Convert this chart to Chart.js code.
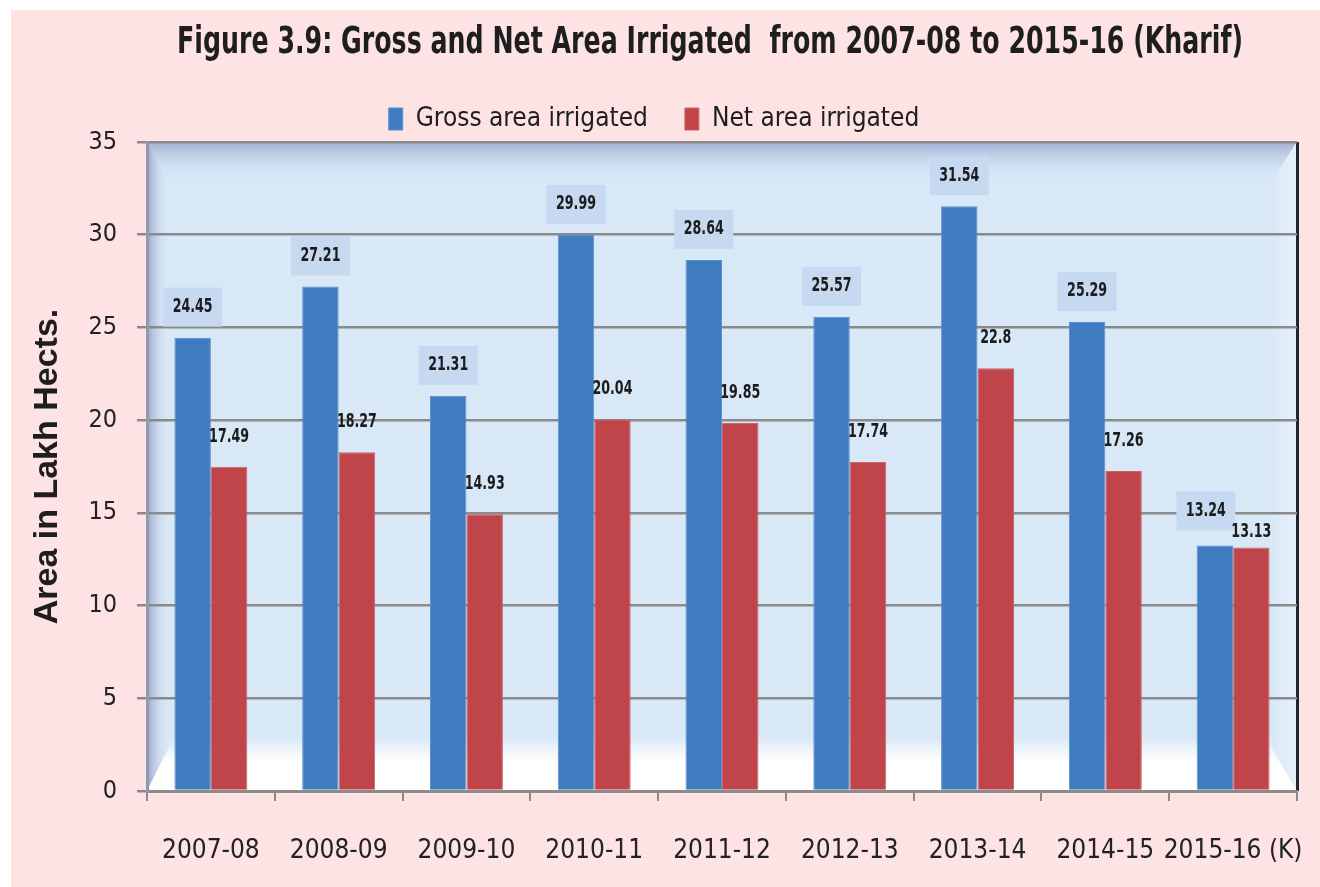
<!DOCTYPE html>
<html>
<head>
<meta charset="utf-8">
<script src="https://cdn.jsdelivr.net/npm/chart.js@4.4.1/dist/chart.umd.min.js"></script>
<style>
  html, body { margin: 0; padding: 0; background: #ffffff; }
  #wrap { position: absolute; left: 11px; top: 10px; width: 1309px; height: 877px; background: #fde3e4; }
  canvas { display: block; }
</style>
</head>
<body>
<div id="wrap"><canvas id="c" width="1309" height="877"></canvas></div>
<script>
// ---- data ----
const categories = ['2007-08', '2008-09', '2009-10', '2010-11', '2011-12', '2012-13', '2013-14', '2014-15', '2015-16 (K)'];
const grossIrrigated = [24.45, 27.21, 21.31, 29.99, 28.64, 25.57, 31.54, 25.29, 13.24];
const netIrrigated = [17.49, 18.27, 14.93, 20.04, 19.85, 17.74, 22.8, 17.26, 13.13];
const seriesNames = ['Gross area irrigated', 'Net area irrigated'];
const titleText = 'Figure 3.9: Gross and Net Area Irrigated  from 2007-08 to 2015-16 (Kharif)';
const yTitle = 'Area in Lakh Hects.';
const yMin = 0, yMax = 35, yStep = 5;

const NARROW = "'Liberation Sans Narrow', 'DejaVu Sans Condensed', 'Open Sans', sans-serif";
const WIDE = "'Liberation Sans', Arial, sans-serif";

// narrow the title box so the (condensed) title spans the same width as the original
const titleBox = {
  id: 'titleBox',
  afterLayout(chart) {
    const t = chart.titleBlock;
    if (!t) return;
    const center = 699, half = 533;
    t.left = center - half;
    t.right = center + half;
    t.width = 2 * half;
  }
};

const plotBg = {
  id: 'plotBg',
  beforeDraw(chart) {
    const { ctx, chartArea: a } = chart;
    const L = a.left, R = a.right, T = a.top, B = a.bottom;
    ctx.save();
    ctx.fillStyle = '#d9e8f7';
    ctx.fillRect(L, T, a.width, a.height);
    const th = 40, lw = 22, rw = 26, bh = 44;
    let g = ctx.createLinearGradient(0, T, 0, T + th);
    g.addColorStop(0, 'rgba(160,172,210,0.95)');
    g.addColorStop(1, 'rgba(217,232,247,0)');
    ctx.fillStyle = g;
    ctx.beginPath(); ctx.moveTo(L, T); ctx.lineTo(R, T); ctx.lineTo(R - rw, T + th); ctx.lineTo(L + lw, T + th); ctx.closePath(); ctx.fill();
    g = ctx.createLinearGradient(L, 0, L + lw, 0);
    g.addColorStop(0, 'rgba(145,158,198,0.9)');
    g.addColorStop(1, 'rgba(217,232,247,0)');
    ctx.fillStyle = g;
    ctx.beginPath(); ctx.moveTo(L, T); ctx.lineTo(L + lw, T + th); ctx.lineTo(L + lw, B - bh); ctx.lineTo(L, B); ctx.closePath(); ctx.fill();
    g = ctx.createLinearGradient(R - rw, 0, R, 0);
    g.addColorStop(0, 'rgba(232,241,251,0)');
    g.addColorStop(1, 'rgba(232,241,251,0.95)');
    ctx.fillStyle = g;
    ctx.beginPath(); ctx.moveTo(R, T); ctx.lineTo(R, B); ctx.lineTo(R - rw, B - bh); ctx.lineTo(R - rw, T + th); ctx.closePath(); ctx.fill();
    g = ctx.createLinearGradient(0, B - bh - 10, 0, B);
    g.addColorStop(0, 'rgba(255,255,255,0)');
    g.addColorStop(0.45, 'rgba(255,255,255,1)');
    g.addColorStop(1, 'rgba(255,255,255,1)');
    ctx.fillStyle = g;
    ctx.beginPath(); ctx.moveTo(L + lw, B - bh - 10); ctx.lineTo(R - rw, B - bh - 10); ctx.lineTo(R - rw, B - bh); ctx.lineTo(R, B); ctx.lineTo(L, B); ctx.lineTo(L + lw, B - bh); ctx.closePath(); ctx.fill();
    ctx.fillStyle = '#1f2633';
    ctx.fillRect(R - 1, T, 3, a.height);
    ctx.restore();
  }
};

const valueLabels = {
  id: 'valueLabels',
  afterDatasetsDraw(chart) {
    const ctx = chart.ctx;
    ctx.save();
    ctx.font = 'bold 19px ' + NARROW;
    ctx.textAlign = 'center';
    ctx.textBaseline = 'middle';
    const squeeze = 0.74;
    const m0 = chart.getDatasetMeta(0), m1 = chart.getDatasetMeta(1);
    const ds0 = chart.data.datasets[0].data, ds1 = chart.data.datasets[1].data;
    m0.data.forEach((bar, i) => {
      const gTxt = String(ds0[i]);
      const nTxt = String(ds1[i]);
      const gw = ctx.measureText(gTxt).width * squeeze;
      const w = gw + 19;
      const h = 39;
      let bx = bar.x - w / 2;
      let bBottom = bar.y - 11;
      const nb = m1.data[i];
      const nw = ctx.measureText(nTxt).width * squeeze;
      let ny = nb.y - 30;
      const overlapX = (nb.x - nw / 2) < (bx + w);
      const overlapY = (ny - 8) < bBottom && (ny + 8) > (bBottom - h);
      if (overlapX && overlapY) {
        bx -= 9;
        bBottom = bar.y - 15;
        ny = bBottom + 2;
      }
      ctx.fillStyle = '#c6d9f0';
      ctx.fillRect(bx, bBottom - h, w, h);
      ctx.fillStyle = '#1c1c1c';
      ctx.fillText(gTxt, bx + w / 2, bBottom - h / 2, gw);
      ctx.fillText(nTxt, nb.x, ny, nw);
    });
    ctx.restore();
  }
};

new Chart(document.getElementById('c'), {
  type: 'bar',
  data: {
    labels: categories,
    datasets: [
      { label: seriesNames[0], data: grossIrrigated, backgroundColor: '#3f7bbf', borderColor: '#5a8fce', borderWidth: 1 },
      { label: seriesNames[1], data: netIrrigated, backgroundColor: '#c0454a', borderColor: '#cf6266', borderWidth: 1 }
    ]
  },
  options: {
    responsive: false,
    animation: false,
    events: [],
    layout: { padding: { left: 0, right: 23, top: 0, bottom: 0 } },
    datasets: { bar: { categoryPercentage: 0.571, barPercentage: 1.0 } },
    plugins: {
      title: {
        display: true,
        text: titleText,
        fullSize: false,
        color: '#1e1e1e',
        font: { family: NARROW, size: 37, weight: 'bold' },
        padding: { top: 11, bottom: 3.6 }
      },
      legend: {
        display: true,
        position: 'top',
        maxHeight: 76,
        labels: {
          color: '#1e1e1e',
          font: { family: NARROW, size: 26 },
          boxWidth: 14,
          boxHeight: 22,
          padding: 37
        }
      },
      tooltip: { enabled: false }
    },
    scales: {
      x: {
        afterFit(scale) { scale.height = 96; scale.paddingLeft = 0; scale.paddingRight = 0; },
        grid: { display: true, drawOnChartArea: false, drawTicks: true, tickLength: 10, color: '#8c8c8c', lineWidth: 2, offset: true },
        border: { display: true, color: '#8c8c8c', width: 3 },
        ticks: { color: '#222222', font: { family: NARROW, size: 26 }, padding: 35, maxRotation: 0, autoSkip: false }
      },
      y: {
        min: yMin, max: yMax,
        afterFit(scale) { scale.width = 136; },
        grid: { color: '#8a8a8a', lineWidth: 2.5, tickLength: 10 },
        border: { display: true, color: '#8e9ab2', width: 3 },
        ticks: { stepSize: yStep, color: '#222222', font: { family: NARROW, size: 25 }, padding: 20 },
        title: { display: true, text: yTitle, color: '#1e1e1e', font: { family: WIDE, size: 34, weight: 'bold' }, padding: { top: 16, bottom: 0 } }
      }
    }
  },
  plugins: [titleBox, plotBg, valueLabels]
});
</script>
</body>
</html>
